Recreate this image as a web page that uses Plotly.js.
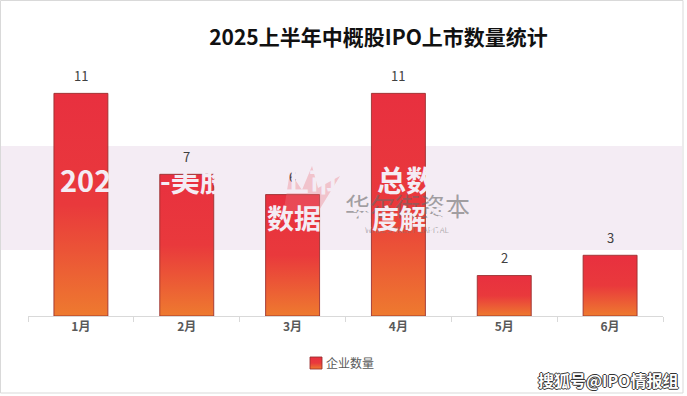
<!DOCTYPE html>
<html>
<head>
<meta charset="utf-8">
<script src="https://cdn.plot.ly/plotly-3.0.1.min.js"></script>
<style>
  html, body { margin: 0; padding: 0; background: #ffffff; }
  #chart { width: 687px; height: 396px; }
</style>
</head>
<body>
<div id="chart"></div>
<script>
// ---- data ----
const months = ["1月", "2月", "3月", "4月", "5月", "6月"];
const ipoCounts = [11, 7, 6, 11, 2, 3];
const seriesName = "企业数量";
const chartTitle = "2025上半年中概股IPO上市数量统计";
const bannerLine1 = ["2025年", "-美股IPO上市", "总数"];
const bannerLine2 = ["数据", "深度解读"];
const watermarkMain = "华尔街资本";
const watermarkSub = "WALL STREET CAPITAL";
const sourceTag = "搜狐号@IPO情报组";

// ---- layout helpers (pixel -> paper) ----
const W = 687, H = 396, ML = 28, MR = 24, MT = 63, MB = 80;
const PW = W - ML - MR, PH = H - MT - MB;
const px = v => (v - ML) / PW;
const py = v => (H - MB - v) / PH;

const FONT = "'Noto Sans CJK SC', 'Noto Sans', sans-serif";
const BAND = "rgb(244,236,244)";

const trace = {
  type: "bar",
  name: seriesName,
  x: months,
  y: ipoCounts,
  marker: { color: "#E9323E", line: { color: "rgba(150,45,45,0.85)", width: 1 } },
  hoverinfo: "skip"
};

const annotations = [];
// value labels
months.forEach((m, i) => {
  annotations.push({
    x: m, y: ipoCounts[i], xref: "x", yref: "y",
    text: String(ipoCounts[i]), showarrow: false,
    yanchor: "middle", yshift: 18,
    font: { family: FONT, size: 13, color: "#404040" }
  });
});
// watermark
annotations.push({
  xref: "paper", yref: "paper", x: px(407), y: py(205), xanchor: "center", yanchor: "middle",
  text: watermarkMain, showarrow: false,
  font: { family: FONT, size: 25, color: "rgba(105,105,105,0.6)" }
});
annotations.push({
  xref: "paper", yref: "paper", x: px(407), y: py(229), xanchor: "center", yanchor: "middle",
  text: watermarkSub, showarrow: false,
  font: { family: FONT, size: 8, color: "rgba(120,120,120,0.55)" }
});
// banner text (same colour as the band, so only visible over bars)
const l1x = [58, 158, 375];
bannerLine1.forEach((t, i) => {
  annotations.push({
    xref: "paper", yref: "paper", x: px(l1x[i]), y: py(179), xanchor: "left", yanchor: "middle",
    text: t, showarrow: false,
    font: { family: FONT, size: 29, color: BAND, weight: "bold" }
  });
});
const l2x = [265, 343];
bannerLine2.forEach((t, i) => {
  annotations.push({
    xref: "paper", yref: "paper", x: px(l2x[i]), y: py(217), xanchor: "left", yanchor: "middle",
    text: t, showarrow: false,
    font: { family: FONT, size: 27, color: BAND, weight: "bold" }
  });
});
// source tag
annotations.push({
  xref: "paper", yref: "paper", x: px(680), y: py(380), xanchor: "right", yanchor: "middle",
  text: sourceTag, showarrow: false,
  font: { family: FONT, size: 16, color: "#ffffff", weight: "bold",
          shadow: "1px 0 0 #333, -1px 0 0 #333, 0 1px 0 #333, 0 -1px 0 #333" }
});

const shapes = [
  // banner band
  { type: "rect", xref: "paper", yref: "paper", x0: px(0), x1: px(682), y0: py(146), y1: py(250),
    fillcolor: BAND, line: { width: 0 }, layer: "below" },
  // faded logo
  { type: "path", xref: "paper", yref: "paper", layer: "above",
    path: `M ${px(283)},${py(215)} L ${px(290)},${py(172)} L ${px(302)},${py(190)} L ${px(312)},${py(166)} L ${px(318)},${py(188)} L ${px(340)},${py(176)} L ${px(318)},${py(212)} Z`,
    fillcolor: "rgba(235,120,130,0.35)", line: { width: 0 } },
  // outer frame
  { type: "rect", xref: "paper", yref: "paper", x0: px(0.5), x1: px(683), y0: py(0.5), y1: py(393),
    fillcolor: "rgba(0,0,0,0)", line: { color: "#D9D9D9", width: 1 }, layer: "above" }
];

const layout = {
  width: W, height: H,
  margin: { l: ML, r: MR, t: MT, b: MB, pad: 0 },
  paper_bgcolor: "#ffffff",
  plot_bgcolor: "rgba(0,0,0,0)",
  title: {
    text: chartTitle, x: px(378.5), xref: "paper", xanchor: "center",
    y: 1 - 38 / H, yanchor: "middle",
    font: { family: FONT, size: 21, color: "#111111", weight: "bold" }
  },
  bargap: 0.49,
  xaxis: {
    type: "category", showline: true, linecolor: "#D9D9D9", linewidth: 1,
    ticks: "outside", tickson: "boundaries", ticklen: 5, tickcolor: "#D9D9D9",
    showgrid: false, zeroline: false, fixedrange: true,
    tickfont: { family: FONT, size: 12, color: "#595959", weight: "bold" }
  },
  yaxis: {
    range: [0, 12.5], visible: false, showgrid: false, zeroline: false, fixedrange: true
  },
  showlegend: true,
  legend: {
    orientation: "h", x: px(343), xanchor: "center", y: py(363), yanchor: "middle",
    font: { family: FONT, size: 12, color: "#595959" }, bgcolor: "rgba(0,0,0,0)",
    itemclick: false, itemdoubleclick: false
  },
  annotations: annotations,
  shapes: shapes
};

Plotly.newPlot("chart", [trace], layout, { displayModeBar: false, staticPlot: true }).then(gd => {
  const svg = gd.querySelector(".main-svg");
  const defs = svg.querySelector("defs");
  const NS = "http://www.w3.org/2000/svg";
  const grad = document.createElementNS(NS, "linearGradient");
  grad.setAttribute("id", "barGrad");
  grad.setAttribute("x1", "0"); grad.setAttribute("y1", "0");
  grad.setAttribute("x2", "0"); grad.setAttribute("y2", "1");
  [["0", "#E8303F"], ["0.5", "#E9393C"], ["1", "#EE7A2F"]].forEach(([o, c]) => {
    const s = document.createElementNS(NS, "stop");
    s.setAttribute("offset", o); s.setAttribute("stop-color", c);
    grad.appendChild(s);
  });
  defs.appendChild(grad);
  gd.querySelectorAll(".trace.bars .point path, .legend .legendpoints path").forEach(p => {
    p.style.fill = "url(#barGrad)";
  });
  // pull legend text closer to its swatch
  gd.querySelectorAll(".legend .legendtext").forEach(t => {
    t.setAttribute("x", "30");
  });
});
</script>
</body>
</html>
